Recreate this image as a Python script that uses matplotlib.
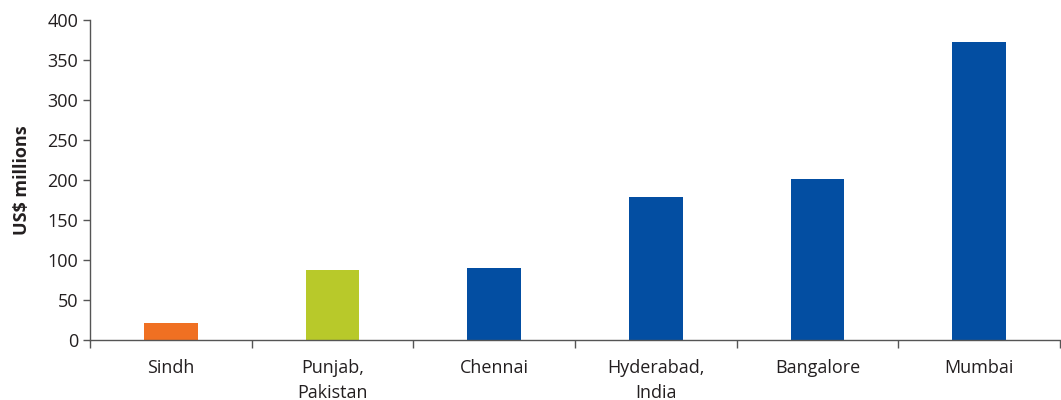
import matplotlib.pyplot as plt
import numpy as np

plt.rcParams["font.family"] = ["Open Sans", "DejaVu Sans"]

categories = ["Sindh", "Punjab,\nPakistan", "Chennai", "Hyderabad,\nIndia", "Bangalore", "Mumbai"]
values = [21.5, 87.5, 90, 179, 201, 372.5]
colors = ["#F07022", "#B8C92A", "#034EA2", "#034EA2", "#034EA2", "#034EA2"]

fig = plt.figure(figsize=(10.61, 4.0), dpi=100)
ax = fig.add_axes([90 / 1061, 0.15, 970 / 1061, 0.80])

x = np.arange(len(categories))
ax.bar(x, values, width=0.33, color=colors)

ax.set_xlim(-0.5, len(categories) - 0.5)
ax.set_ylim(0, 400)
ax.set_yticks(np.arange(0, 401, 50))
ax.set_xticks(x)
ax.set_xticklabels(categories, fontsize=13, color="#231F20", linespacing=1.45)
ax.set_xticks(np.arange(len(categories) + 1) - 0.5, minor=True)
ax.tick_params(axis="x", which="major", length=0, pad=14)
ax.tick_params(axis="x", which="minor", length=6, width=1, color="#555555")
ax.tick_params(axis="y", length=5, width=1, color="#555555", labelsize=13, labelcolor="#231F20")
ax.set_ylabel("US$ millions", fontsize=13, fontweight="bold", color="#231F20", labelpad=12)

for s in ["top", "right"]:
    ax.spines[s].set_visible(False)
for s in ["left", "bottom"]:
    ax.spines[s].set_color("#555555")
    ax.spines[s].set_linewidth(1)

fig.savefig("out.png", dpi=100)
